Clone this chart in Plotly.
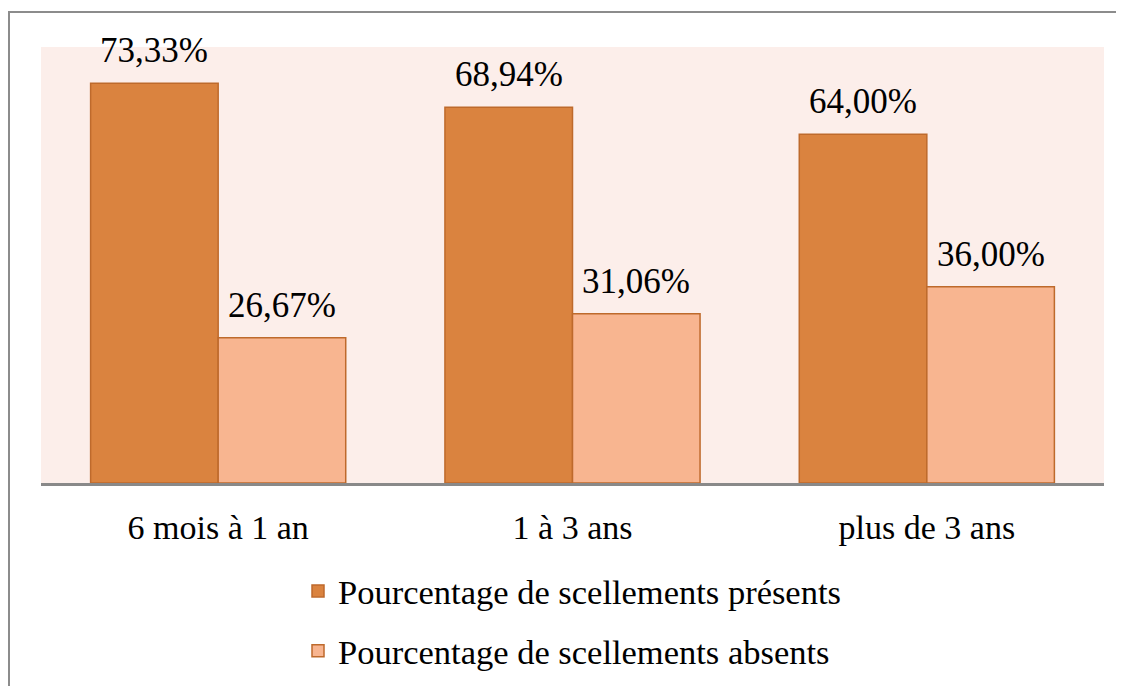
import plotly.graph_objects as go

categories = ["6 mois à 1 an", "1 à 3 ans", "plus de 3 ans"]
presents = [73.33, 68.94, 64.00]
absents = [26.67, 31.06, 36.00]
series_names = ["Pourcentage de scellements présents", "Pourcentage de scellements absents"]

# page has an 8px body margin; figure drawn at (8,8)
OFF = 8
W, H = 1116, 678
L, R, T, B = 33, 20, 39, 203
pw, ph = W - L - R, H - T - B

def px_x(p):  # p in page pixels
    return (p - OFF - L) / pw

def px_y(p):
    return (H - B - (p - OFF)) / ph

font = "'Liberation Serif', Tinos, 'Times New Roman', Times, 'DejaVu Serif', 'Noto Serif', serif"
BARGAP = 0.28
half = (1 - BARGAP) / 4  # offset of each bar centre within a group

fig = go.Figure()
fig.add_trace(go.Bar(
    x=categories, y=presents, name=series_names[0], legendgroup="a",
    marker=dict(color="#DA833F", line=dict(color="#BE6A2C", width=1.5)),
))
fig.add_trace(go.Bar(
    x=categories, y=absents, name=series_names[1], legendgroup="b",
    marker=dict(color="#F8B590", line=dict(color="#BE6A2C", width=1.5)),
))

for i, (vp, va) in enumerate(zip(presents, absents)):
    for xv, v in ((i - half, vp), (i + half, va)):
        fig.add_annotation(
            x=xv, y=v, xref="x", yref="y", yanchor="bottom",
            text=f"{v:.2f}%".replace(".", ","), showarrow=False,
            yshift=11, font=dict(family=font, size=35, color="black"),
        )

fig.add_shape(type="rect", xref="paper", yref="paper",
              x0=px_x(9), x1=px_x(1150), y0=px_y(720), y1=px_y(12),
              line=dict(color="#8C8C8C", width=2), fillcolor="rgba(0,0,0,0)",
              layer="below")

fig.update_layout(
    width=W, height=H,
    margin=dict(l=L, r=R, t=T, b=B, autoexpand=False),
    paper_bgcolor="white",
    plot_bgcolor="#FCEEEA",
    barmode="group",
    bargap=BARGAP,
    bargroupgap=0,
    showlegend=True,
    legend=dict(
        x=px_x(298), y=px_y(562), xanchor="left", yanchor="top",
        font=dict(family=font, size=34.5, color="black"),
        bgcolor="rgba(0,0,0,0)", tracegroupgap=12,
    ),
    font=dict(family=font, color="black"),
    xaxis=dict(
        showline=True, linecolor="#898989", linewidth=3,
        ticks="", showgrid=False, zeroline=False,
        tickfont=dict(family=font, size=34, color="black"),
        ticklabelstandoff=12,
    ),
    yaxis=dict(range=[0, 80], visible=False, showgrid=False, zeroline=False),
)

fig.write_html("out.html")
